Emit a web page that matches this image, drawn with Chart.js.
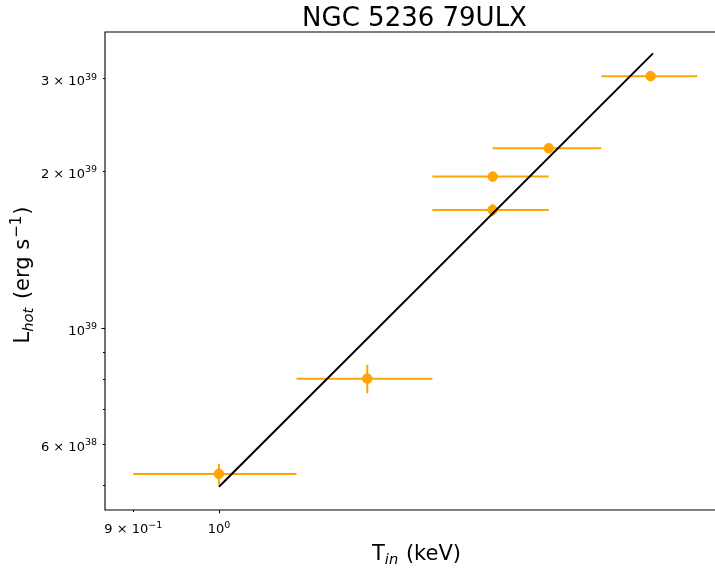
<html>
<head>
    <title>NGC 5236 79ULX</title>
    <script src="https://cdn.jsdelivr.net/npm/chart.js"></script>
</head>

<style>
    body {
        margin: 0;
        background-color: #ffffff;
    }
</style>

<body>
    <div style="width: 715px; height: 572px;">
        <canvas id="myChart" width="715" height="572"></canvas>
    </div>

    <script>
        // measured points (T_in in keV, L_hot in erg/s)
        const tIn = [1.0, 1.2, 1.4, 1.4, 1.5, 1.7];
        const tInErr = [0.1, 0.1, 0.1, 0.1, 0.1, 0.1];
        const lHot = [5.26e38, 8.0e38, 1.947e39, 1.681e39, 2.206e39, 3.03e39];
        const lHotErr = [2.4e37, 5.0e37, 2.0e37, 4.5e37, 2.0e37, 3.0e37];

        // fitted power law, two end points
        const fitT = [1.0, 1.705];
        const fitL = [4.97e38, 3.35e39];

        // axis ranges
        const xRange = [0.8693, 1.840];
        const yRange = [4.487e38, 3.68e39];

        // ticks
        const xMajorTicks = [1.0];
        const xMinorTicks = [0.9];
        const xTickLabels = { 0.9: ['9 \u00d7 10', '\u22121'], 1: ['10', '0'] };
        const yMajorTicks = [1e39];
        const yMinorTicks = [5e38, 6e38, 7e38, 8e38, 9e38, 2e39, 3e39];
        const yTickLabels = {
            6e38: ['6 \u00d7 10', '38'],
            1e39: ['10', '39'],
            2e39: ['2 \u00d7 10', '39'],
            3e39: ['3 \u00d7 10', '39']
        };

        const FONT = '"DejaVu Sans", sans-serif';
        const ORANGE = '#ffa500';
        // the original axes run a little past the right edge of the picture
        const AXES_CENTER = 414.5;

        // error bars as little two point line datasets
        const errorSets = [];
        tIn.forEach((t, i) => {
            errorSets.push({
                data: [{ x: t - tInErr[i], y: lHot[i] }, { x: t + tInErr[i], y: lHot[i] }],
                showLine: true, borderColor: ORANGE, borderWidth: 2, pointRadius: 0, order: 3
            });
            errorSets.push({
                data: [{ x: t, y: lHot[i] - lHotErr[i] }, { x: t, y: lHot[i] + lHotErr[i] }],
                showLine: true, borderColor: ORANGE, borderWidth: 2, pointRadius: 0, order: 3
            });
        });

        const data = {
            datasets: [
                {
                    data: fitT.map((t, i) => ({ x: t, y: fitL[i] })),
                    showLine: true, borderColor: '#000000', borderWidth: 2, pointRadius: 0, order: 1
                },
                {
                    data: tIn.map((t, i) => ({ x: t, y: lHot[i] })),
                    backgroundColor: ORANGE, borderColor: ORANGE, pointRadius: 4.8, order: 2
                },
                ...errorSets
            ]
        };

        // text with a raised / lowered part
        function richText(ctx, parts, x, y, align) {
            let total = 0;
            parts.forEach(p => { ctx.font = p.font; total += ctx.measureText(p.text).width + (p.gap || 0); });
            let cx = align === 'right' ? x - total : (align === 'center' ? x - total / 2 : x);
            ctx.textAlign = 'left';
            ctx.textBaseline = 'alphabetic';
            parts.forEach(p => {
                ctx.font = p.font;
                ctx.fillText(p.text, cx, y + (p.dy || 0));
                cx += ctx.measureText(p.text).width + (p.gap || 0);
            });
        }

        const decor = {
            id: 'decor',
            afterDraw(chart) {
                const { ctx, chartArea: a, scales: { x, y } } = chart;
                ctx.save();
                ctx.strokeStyle = '#000';
                ctx.fillStyle = '#000';
                ctx.lineWidth = 1.1;
                ctx.beginPath();
                ctx.moveTo(chart.width, a.top);
                ctx.lineTo(a.left, a.top);
                ctx.lineTo(a.left, a.bottom);
                ctx.lineTo(chart.width, a.bottom);
                ctx.stroke();

                // y ticks
                ctx.lineWidth = 1;
                const yTick = (v, len) => {
                    const p = Math.round(y.getPixelForValue(v)) + 0.5;
                    ctx.beginPath(); ctx.moveTo(a.left, p); ctx.lineTo(a.left - len, p); ctx.stroke();
                };
                yMajorTicks.forEach(v => yTick(v, 3.5));
                yMinorTicks.forEach(v => yTick(v, 2));
                Object.keys(yTickLabels).forEach(k => {
                    const lab = yTickLabels[k];
                    const p = y.getPixelForValue(+k);
                    richText(ctx, [
                        { text: lab[0], font: '13px ' + FONT },
                        { text: lab[1], font: '9.5px ' + FONT, dy: -5.5 }
                    ], a.left - 8, p + 7, 'right');
                });

                // x ticks
                const xTick = (v, len) => {
                    const p = Math.round(x.getPixelForValue(v)) + 0.5;
                    ctx.beginPath(); ctx.moveTo(p, a.bottom); ctx.lineTo(p, a.bottom + len); ctx.stroke();
                };
                xMajorTicks.forEach(v => xTick(v, 3.5));
                xMinorTicks.forEach(v => xTick(v, 2));
                Object.keys(xTickLabels).forEach(k => {
                    const lab = xTickLabels[k];
                    const p = x.getPixelForValue(+k);
                    richText(ctx, [
                        { text: lab[0], font: '13px ' + FONT },
                        { text: lab[1], font: '9.5px ' + FONT, dy: -5.5 }
                    ], p, a.bottom + 23, 'center');
                });

                // title
                ctx.font = '26px ' + FONT;
                ctx.textAlign = 'center';
                ctx.textBaseline = 'alphabetic';
                ctx.fillText('NGC 5236 79ULX', AXES_CENTER, 25.5);

                // x axis title
                richText(ctx, [
                    { text: 'T', font: '21px ' + FONT },
                    { text: 'in', font: 'italic 14.7px ' + FONT, dy: 4, gap: 1 },
                    { text: ' (keV)', font: '21px ' + FONT }
                ], AXES_CENTER + 2, 560, 'center');

                // y axis title
                ctx.translate(29, (a.top + a.bottom) / 2 + 4);
                ctx.rotate(-Math.PI / 2);
                richText(ctx, [
                    { text: 'L', font: '21px ' + FONT },
                    { text: 'hot', font: 'italic 14.7px ' + FONT, dy: 4, gap: 2 },
                    { text: ' (erg s', font: '21px ' + FONT, gap: 1 },
                    { text: '\u22121', font: '15px ' + FONT, dy: -8.5, gap: 1 },
                    { text: ')', font: '21px ' + FONT }
                ], 0, 0, 'center');
                ctx.restore();
            }
        };

        const config = {
            type: 'scatter',
            data: data,
            options: {
                responsive: false,
                animation: false,
                layout: { autoPadding: false, padding: { top: 32, right: 0, left: 0, bottom: 0 } },
                plugins: {
                    legend: { display: false },
                    tooltip: { enabled: false }
                },
                scales: {
                    x: {
                        type: 'logarithmic',
                        bounds: 'data',
                        min: xRange[0],
                        max: xRange[1],
                        grid: { display: false },
                        border: { display: false },
                        ticks: { display: false },
                        afterBuildTicks: (scale) => {
                            scale.min = xRange[0];
                            scale.max = xRange[1];
                        },
                        afterFit: (scale) => {
                            scale.height = 62;
                            scale.paddingLeft = 0;
                            scale.paddingRight = 0;
                        }
                    },
                    y: {
                        type: 'logarithmic',
                        bounds: 'data',
                        min: yRange[0],
                        max: yRange[1],
                        grid: { display: false },
                        border: { display: false },
                        ticks: { display: false },
                        afterBuildTicks: (scale) => {
                            scale.min = yRange[0];
                            scale.max = yRange[1];
                        },
                        afterFit: (scale) => {
                            scale.width = 105;
                            scale.paddingTop = 0;
                            scale.paddingBottom = 0;
                        }
                    }
                }
            },
            plugins: [decor]
        };
    </script>
    <script>
        const myChart = new Chart(
            document.getElementById('myChart'),
            config
        );
    </script>
</body>

</html>
